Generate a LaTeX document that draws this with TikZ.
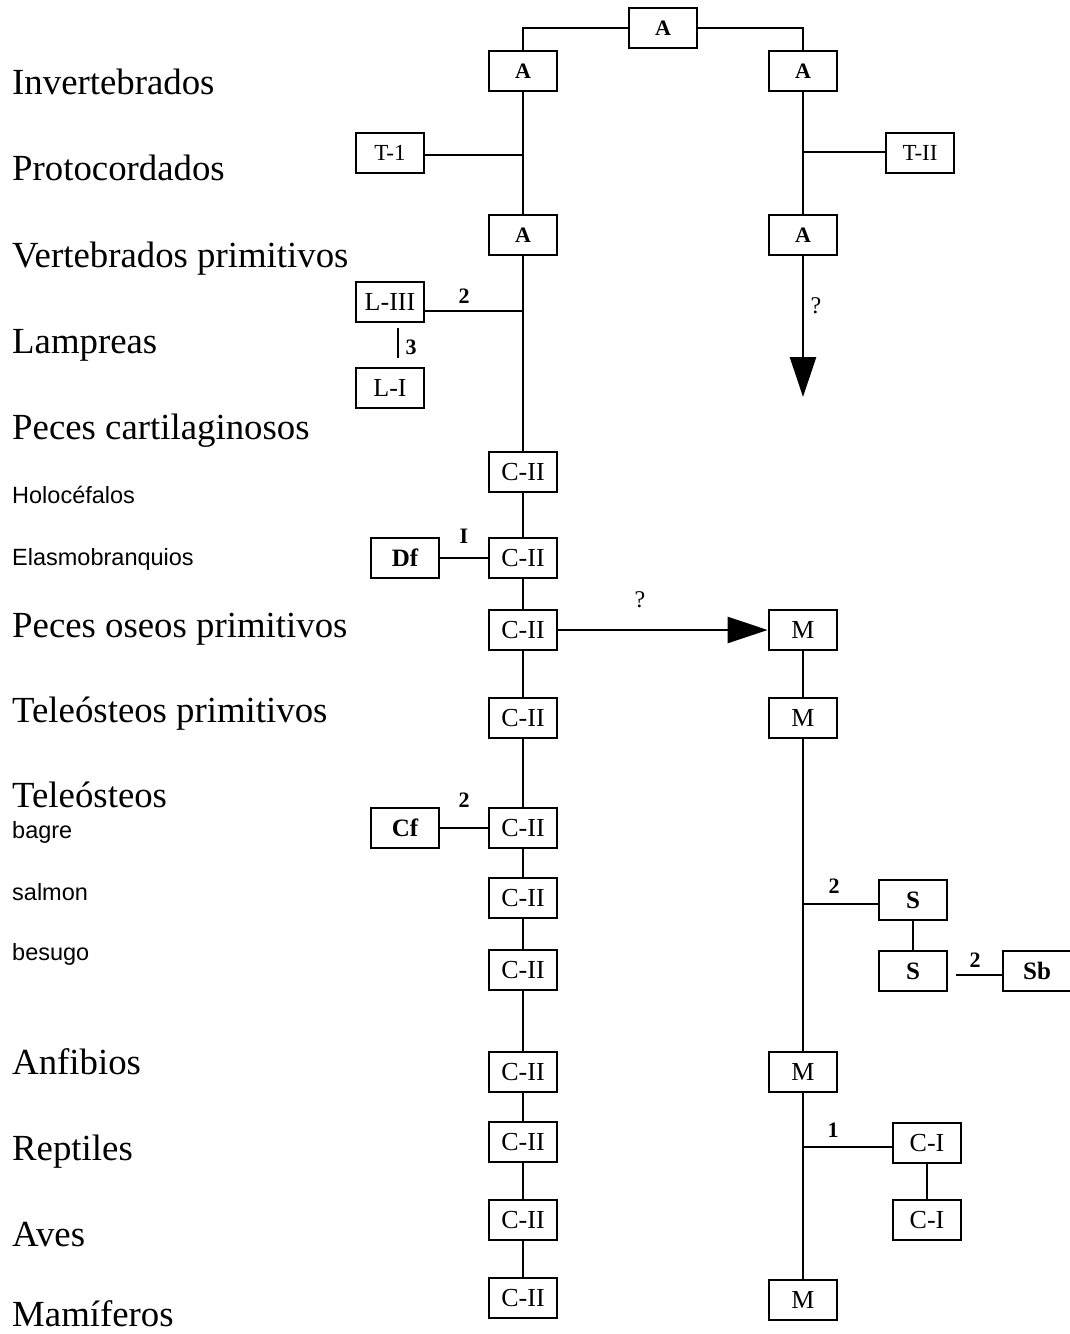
\documentclass[tikz,border=0pt]{standalone}
\usepackage{fontspec}
\setmainfont{Liberation Serif}
\newfontfamily\smallsans{Liberation Sans}
\usetikzlibrary{arrows.meta}
\begin{document}
\begin{tikzpicture}[x=1pt,y=-1pt,
  box/.style={draw,line width=2.8pt,minimum width=68pt,minimum height=40pt,inner sep=0pt,font=\fontsize{26}{28}\selectfont},
  abox/.style={box,font=\bfseries\fontsize{22}{24}\selectfont},
  con/.style={line width=2.6pt},
  big/.style={anchor=base west,inner sep=0pt,font=\fontsize{36.8}{40}\selectfont},
  sml/.style={anchor=base west,inner sep=0pt,font=\smallsans\fontsize{23.5}{25}\selectfont},
  num/.style={inner sep=0pt,font=\fontsize{22}{24}\selectfont\bfseries},
  bigarrow/.style={con,-{Triangle[length=40pt,width=26pt]}}]
\useasboundingbox (0,0) rectangle (1069,1334);
% left labels
\node[big] (l1) at (12,94) {Invertebrados};
\node[big] (l2) at (12,180) {Protocordados};
\node[big] (l3) at (12,267) {Vertebrados primitivos};
\node[big] (l4) at (12,353) {Lampreas};
\node[big] (l5) at (12,439) {Peces cartilaginosos};
\node[sml] (l6) at (12,503) {Holocéfalos};
\node[sml] (l7) at (12,565) {Elasmobranquios};
\node[big] (l8) at (12,637) {Peces oseos primitivos};
\node[big] (l9) at (12,722) {Teleósteos primitivos};
\node[big] (l10) at (12,807) {Teleósteos};
\node[sml] (l11) at (12,838) {bagre};
\node[sml] (l12) at (12,900) {salmon};
\node[sml] (l13) at (12,960) {besugo};
\node[big] (l14) at (12,1074) {Anfibios};
\node[big] (l15) at (12,1160) {Reptiles};
\node[big] (l16) at (12,1246) {Aves};
\node[big] (l17) at (12,1326) {Mamíferos};
% top
\node[abox] (A0) at (663,28) {A};
\node[abox] (AL1) at (523,71) {A};
\node[abox] (AR1) at (803,71) {A};
\node[abox] (AL2) at (523,235) {A};
\node[abox] (AR2) at (803,235) {A};
\node[box,font=\fontsize{23}{25}\selectfont] (T1) at (390,153) {T-1};
\node[box,font=\fontsize{23}{25}\selectfont] (T2) at (920,153) {T-II};
\node[box] (L3) at (390,302) {L-III};
\node[box] (L1) at (390,388) {L-I};
% left column C-II
\node[box] (C1) at (523,472) {C-II};
\node[box] (C2) at (523,558) {C-II};
\node[box,font=\bfseries\fontsize{25}{27}\selectfont] (Df) at (405,558) {Df};
\node[box] (C3) at (523,630) {C-II};
\node[box] (C4) at (523,718) {C-II};
\node[box] (C5) at (523,828) {C-II};
\node[box,font=\bfseries\fontsize{25}{27}\selectfont] (Cf) at (405,828) {Cf};
\node[box] (C6) at (523,898) {C-II};
\node[box] (C7) at (523,970) {C-II};
\node[box] (C8) at (523,1072) {C-II};
\node[box] (C9) at (523,1142) {C-II};
\node[box] (C10) at (523,1220) {C-II};
\node[box] (C11) at (523,1298) {C-II};
% right column
\node[box] (M1) at (803,630) {M};
\node[box] (M2) at (803,718) {M};
\node[box] (M3) at (803,1072) {M};
\node[box] (M4) at (803,1300) {M};
\node[box,font=\bfseries\fontsize{25}{27}\selectfont] (S1) at (913,900) {S};
\node[box,font=\bfseries\fontsize{25}{27}\selectfont] (S2) at (913,971) {S};
\node[box,font=\bfseries\fontsize{25}{27}\selectfont] (Sb) at (1037,971) {Sb};
\node[box] (CI1) at (927,1143) {C-I};
\node[box] (CI2) at (927,1220) {C-I};
% junction coordinates
\coordinate (jT1) at (523,155);
\coordinate (jT2) at (803,152);
\coordinate (jL3) at (523,311);
\coordinate (jS) at (803,904);
\coordinate (jCI) at (803,1147);
\coordinate (arrEnd) at (803,397);
% connectors
\draw[con] (A0.west) -| (AL1.north);
\draw[con] (A0.east) -| (AR1.north);
\draw[con] (AL1.south) -- (AL2.north);
\draw[con] (AR1.south) -- (AR2.north);
\draw[con] (jT1) -- (jT1 -| T1.east);
\draw[con] (jT2) -- (jT2 -| T2.west);
\draw[bigarrow] (AR2.south) -- (arrEnd);
\node[inner sep=0pt,font=\fontsize{24}{26}\selectfont] (q1) at (816,306) {?};
\draw[con] (AL2.south) -- (C1.north);
\draw[con] (jL3) -- (jL3 -| L3.east);
\node[num] (n2a) at (464,296) {2};
\draw[con] (398,328) coordinate (l3a) -- (398,358) coordinate (l3b);
\node[num] (n3) at (411,347) {3};
\draw[con] (C1.south) -- (C2.north);
\draw[con] (Df.east) -- (C2.west);
\node[num] (nI) at (464,536) {I};
\draw[con] (C2.south) -- (C3.north);
\draw[bigarrow] (C3.east) -- (M1.west);
\node[inner sep=0pt,font=\fontsize{24}{26}\selectfont] (q2) at (640,600) {?};
\draw[con] (C3.south) -- (C4.north);
\draw[con] (C4.south) -- (C5.north);
\draw[con] (Cf.east) -- (C5.west);
\node[num] (n2b) at (464,800) {2};
\draw[con] (C5.south) -- (C6.north);
\draw[con] (C6.south) -- (C7.north);
\draw[con] (C7.south) -- (C8.north);
\draw[con] (C8.south) -- (C9.north);
\draw[con] (C9.south) -- (C10.north);
\draw[con] (C10.south) -- (C11.north);
\draw[con] (M1.south) -- (M2.north);
\draw[con] (M2.south) -- (M3.north);
\draw[con] (jS) -- (jS -| S1.west);
\node[num] (n2c) at (834,886) {2};
\draw[con] (S1.south) -- (S2.north);
\draw[con] (S2.east) ++(8,4) coordinate (sbs) -- (sbs -| Sb.west);
\node[num] (n2d) at (975,960) {2};
\draw[con] (M3.south) -- (M4.north);
\draw[con] (jCI) -- (jCI -| CI1.west);
\node[num] (n1) at (833,1130) {1};
\draw[con] (CI1.south) -- (CI2.north);
\end{tikzpicture}
\end{document}
